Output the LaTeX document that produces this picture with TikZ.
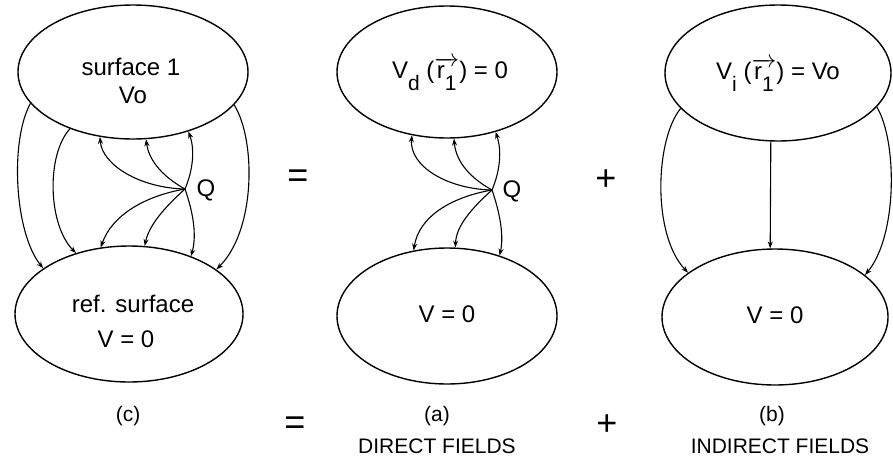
\documentclass[tikz,border=0pt]{standalone}
\usepackage{fontspec}
\setmainfont{Liberation Sans}
\usetikzlibrary{arrows.meta,shapes.geometric}
\newcommand{\sbx}[1]{\raisebox{-0.5em}{\fontsize{21}{24}\selectfont #1}}
\newcommand{\vecrone}{$\overrightarrow{\hbox{r\sbx{1}}}$}
\begin{document}
\begin{tikzpicture}[x=1pt,y=-1pt,
  surf/.style={draw, ellipse, line width=1.4pt, inner sep=0pt},
  fl/.style={line width=1.1pt, -{Stealth[length=7pt,width=5pt]}},
  lab/.style={font=\fontsize{24}{28}\selectfont, anchor=base, inner sep=0pt},
  captxt/.style={font=\fontsize{21}{24}\selectfont, anchor=base, inner sep=0pt},
  sign/.style={font=\fontsize{36}{40}\selectfont, anchor=base, inner sep=0pt}]
\useasboundingbox (0,0) rectangle (893,458);

% ellipses
\node[surf, minimum width=230pt, minimum height=134pt] (T1) at (133,72) {};
\node[surf, minimum width=228pt, minimum height=136pt] (B1) at (129,314) {};
\node[surf, minimum width=220pt, minimum height=132pt] (T2) at (447,72) {};
\node[surf, minimum width=220pt, minimum height=136pt] (B2) at (447,316) {};
\node[surf, minimum width=226pt, minimum height=136pt] (T3) at (778,73) {};
\node[surf, minimum width=226pt, minimum height=136pt] (B3) at (775,317) {};

% texts in ellipses
\node[lab] (t1a) at (131,75) {surface 1};
\node[lab] (t1b) at (133,103) {Vo};
\node[lab] (b1a) at (133,312) {ref. surface};
\node[lab] (b1b) at (126,347) {V = 0};
\node[lab] (b2a) at (447,322) {V = 0};
\node[lab] (b3a) at (775,323) {V = 0};
\node[lab] (t2a) at (450,78) {V\sbx{d} (\vecrone) = 0};
\node[lab] (t3a) at (778,79) {V\sbx{i} (\vecrone) = Vo};

% charges
\coordinate (Q1) at (185,189);
\node[lab] (q1) at (206,196) {Q};
\coordinate (Q2) at (492,190);
\node[lab] (q2) at (512,197) {Q};

% (c) field lines
\draw[fl] (Q1) .. controls (140,188) and (102,165) .. (T1.-117);
\draw[fl] (Q1) .. controls (165,178) and (149,162) .. (T1.-79);
\draw[fl] (Q1) .. controls (193,170) and (195,150) .. (T1.-47);
\draw[fl] (Q1) .. controls (145,196) and (112,215) .. (B1.113);
\draw[fl] (Q1) .. controls (165,207) and (149,225) .. (B1.77);
\draw[fl] (Q1) .. controls (193,212) and (197,235) .. (B1.43);
\draw[fl] (T1.-163) .. controls (10,140) and (14,232) .. (B1.152);
\draw[fl] (T1.-138) .. controls (46,155) and (48,225) .. (B1.131);
\draw[fl] (T1.-18) .. controls (256,140) and (256,230) .. (B1.27);

% (a) field lines
\draw[fl] (Q2) .. controls (447,189) and (409,166) .. (T2.-119);
\draw[fl] (Q2) .. controls (472,179) and (456,163) .. (T2.-84);
\draw[fl] (Q2) .. controls (500,171) and (502,151) .. (T2.-51);
\draw[fl] (Q2) .. controls (452,197) and (419,216) .. (B2.117);
\draw[fl] (Q2) .. controls (472,208) and (456,226) .. (B2.83);
\draw[fl] (Q2) .. controls (500,213) and (504,236) .. (B2.49);

% (b) field lines
\draw[fl] (T3.-160) .. controls (655,140) and (652,235) .. (B3.153);
\draw[fl] (T3.-96.6) -- (B3.94);
\draw[fl] (T3.-19) .. controls (897,140) and (898,235) .. (B3.25.5);

% signs and captions
\node[sign] (eq1) at (298,187) {=};
\node[sign] (pl1) at (606,190) {+};
\node[captxt] (lc) at (128,421) {(c)};
\node[sign] (eq2) at (295,434) {=};
\node[captxt] (la) at (437,421) {(a)};
\node[captxt] (da) at (437,453) {DIRECT FIELDS};
\node[sign] (pl2) at (607,435) {+};
\node[captxt] (lb) at (772,421) {(b)};
\node[captxt] (db) at (780,453) {INDIRECT FIELDS};
\end{tikzpicture}
\end{document}
